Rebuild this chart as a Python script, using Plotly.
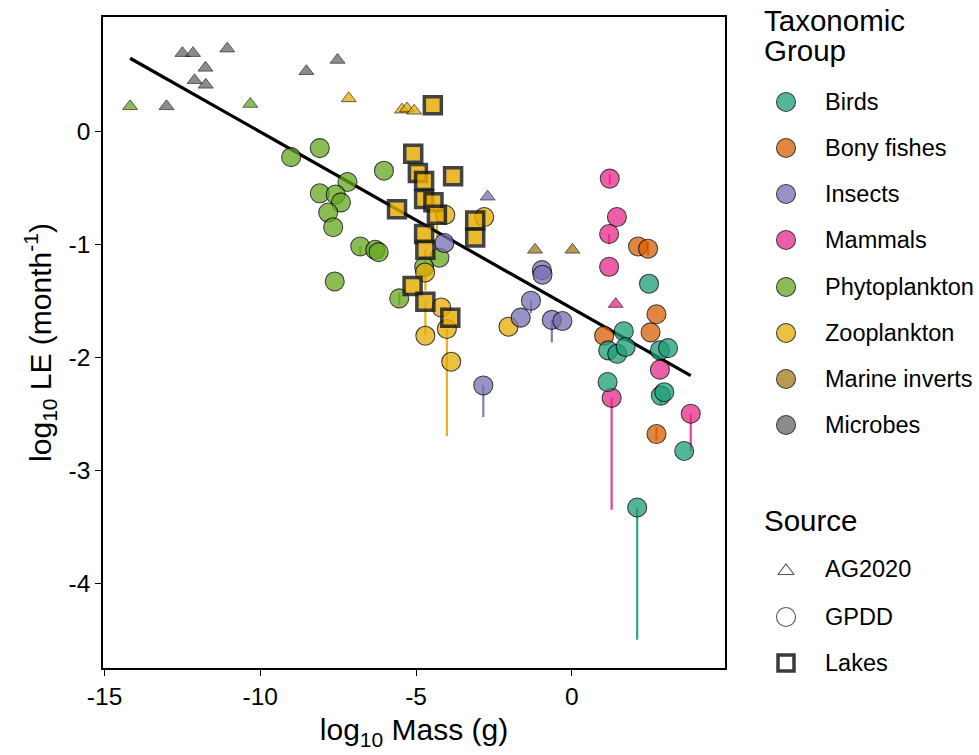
import plotly.graph_objects as go

# ---------------- data ----------------
groups = ["Birds", "Bony fishes", "Insects", "Mammals", "Phytoplankton",
          "Zooplankton", "Marine inverts", "Microbes"]
group_colors = ["#1B9E77", "#D95F02", "#7570B3", "#E7298A", "#66A61E",
                "#E6AB02", "#A6761D", "#666666"]

# AG2020 (triangles)
ag_microbes_x = [-13.01, -12.50, -12.16, -11.06, -11.76, -12.11, -11.75, -8.52, -7.52]
ag_microbes_y = [0.22, 0.69, 0.69, 0.73, 0.56, 0.45, 0.41, 0.53, 0.63]
ag_phyto_x = [-14.18, -10.32]
ag_phyto_y = [0.22, 0.24]
ag_zoo_x = [-7.16, -5.45, -5.29, -5.06]
ag_zoo_y = [0.29, 0.19, 0.20, 0.18]
ag_insects_x = [-2.70]
ag_insects_y = [-0.58]
ag_marine_x = [-1.18, 0.02]
ag_marine_y = [-1.05, -1.05]
ag_mammals_x = [1.41]
ag_mammals_y = [-1.53]

# GPDD (circles)
gp_phyto_x = [-9.01, -8.09, -6.03, -7.20, -8.09, -7.58, -7.41, -7.82, -7.66,
              -6.79, -6.31, -6.20, -7.61, -5.54, -4.25, -4.74]
gp_phyto_y = [-0.23, -0.15, -0.35, -0.45, -0.55, -0.56, -0.63, -0.72, -0.85,
              -1.02, -1.05, -1.07, -1.33, -1.48, -1.12, -1.20]
gp_zoo_x = [-4.06, -2.81, -4.71, -4.19, -4.01, -4.70, -3.87, -2.03]
gp_zoo_y = [-0.74, -0.76, -1.25, -1.56, -1.75, -1.81, -2.04, -1.73]
gp_insects_x = [-4.09, -0.96, -0.94, -1.31, -1.64, -0.64, -0.30, -2.84]
gp_insects_y = [-0.99, -1.23, -1.27, -1.50, -1.65, -1.67, -1.68, -2.25]
gp_mammals_x = [1.22, 1.45, 1.20, 1.20, 2.83, 1.28, 3.82]
gp_mammals_y = [-0.42, -0.76, -0.91, -1.20, -2.11, -2.36, -2.50]
gp_fishes_x = [2.13, 2.45, 2.72, 2.53, 1.04, 2.72]
gp_fishes_y = [-1.02, -1.04, -1.62, -1.78, -1.81, -2.68]
gp_birds_x = [2.48, 1.67, 1.17, 1.46, 1.73, 2.83, 3.09, 1.15, 2.86, 2.97, 3.61, 2.10]
gp_birds_y = [-1.35, -1.77, -1.94, -1.97, -1.91, -1.94, -1.92, -2.22, -2.34, -2.31, -2.83, -3.33]

# Lakes (squares, zooplankton)
lk_zoo_x = [-4.46, -5.09, -4.94, -4.74, -3.81, -5.61, -4.74, -4.44, -4.33,
            -3.10, -4.74, -3.10, -4.70, -5.11, -4.70, -3.90]
lk_zoo_y = [0.23, -0.20, -0.37, -0.44, -0.40, -0.69, -0.60, -0.63, -0.74,
            -0.79, -0.91, -0.94, -1.05, -1.37, -1.51, -1.65]

# vertical ranges (group, x, low, high)
err_group = ["Birds", "Birds", "Mammals", "Mammals", "Mammals", "Mammals",
             "Zooplankton", "Zooplankton", "Zooplankton", "Zooplankton", "Zooplankton",
             "Insects", "Insects", "Insects", "Bony fishes", "Bony fishes",
             "Phytoplankton", "Phytoplankton"]
err_x = [2.10, 2.86, 1.28, 3.82, 1.20, 1.22,
         -4.01, -4.70, -4.70, -4.74, -4.33,
         -2.84, -0.64, -1.31, 2.72, 2.45,
         -5.54, -6.79]
err_lo = [-4.50, -2.42, -3.35, -2.83, -1.00, -0.47,
          -2.70, -1.41, -1.81, -0.67, -0.94,
          -2.53, -1.87, -1.61, -2.74, -1.10,
          -1.54, -1.10]
err_hi = [-3.33, -2.34, -2.36, -2.50, -0.91, -0.38,
          -1.75, -1.05, -1.51, -0.52, -0.74,
          -2.25, -1.67, -1.50, -2.62, -0.98,
          -1.43, -1.02]

# fitted line (intercept, slope)
fit_intercept = -1.567
fit_slope = -0.156

x_ticks = [-15, -10, -5, 0]
x_ticklabels = ["-15", "-10", "-5", "0"]
y_ticks = [0, -1, -2, -3, -4]
y_ticklabels = ["0", "-1", "-2", "-3", "-4"]

source_labels = ["AG2020", "GPDD", "Lakes"]

# ---------------- figure ----------------
FONT = "Liberation Sans, Arial, sans-serif"
col = dict(zip(groups, group_colors))
ALPHA = 0.75

fig = go.Figure()

# error ranges
for g, x, lo, hi in zip(err_group, err_x, err_lo, err_hi):
    fig.add_trace(go.Scatter(x=[x, x], y=[lo, hi], mode="lines",
                             line=dict(color=col[g], width=2.2),
                             opacity=0.9, showlegend=False, hoverinfo="skip"))

# fitted line across data range
all_x = (ag_microbes_x + ag_phyto_x + ag_zoo_x + ag_insects_x + ag_marine_x + ag_mammals_x
         + gp_phyto_x + gp_zoo_x + gp_insects_x + gp_mammals_x + gp_fishes_x + gp_birds_x + lk_zoo_x)
xmin, xmax = min(all_x), max(all_x)
fig.add_trace(go.Scatter(x=[xmin, xmax],
                         y=[fit_intercept + fit_slope * xmin, fit_intercept + fit_slope * xmax],
                         mode="lines", line=dict(color="black", width=3.2),
                         showlegend=False, hoverinfo="skip"))

def tri(x, y, g):
    fig.add_trace(go.Scatter(x=x, y=y, mode="markers", showlegend=False,
                             marker=dict(symbol="triangle-up", size=13, color=col[g],
                                         opacity=ALPHA,
                                         line=dict(color="rgba(0,0,0,0.8)", width=1))))

def circ(x, y, g):
    fig.add_trace(go.Scatter(x=x, y=y, mode="markers", showlegend=False,
                             marker=dict(symbol="circle", size=19, color=col[g],
                                         opacity=ALPHA,
                                         line=dict(color="black", width=1.1))))

tri(ag_microbes_x, ag_microbes_y, "Microbes")
tri(ag_phyto_x, ag_phyto_y, "Phytoplankton")
tri(ag_zoo_x, ag_zoo_y, "Zooplankton")
tri(ag_insects_x, ag_insects_y, "Insects")
tri(ag_marine_x, ag_marine_y, "Marine inverts")
tri(ag_mammals_x, ag_mammals_y, "Mammals")

circ(gp_phyto_x, gp_phyto_y, "Phytoplankton")
circ(gp_zoo_x, gp_zoo_y, "Zooplankton")
circ(gp_insects_x, gp_insects_y, "Insects")
circ(gp_mammals_x, gp_mammals_y, "Mammals")
circ(gp_fishes_x, gp_fishes_y, "Bony fishes")
circ(gp_birds_x, gp_birds_y, "Birds")

fig.add_trace(go.Scatter(x=lk_zoo_x, y=lk_zoo_y, mode="markers", showlegend=False,
                         marker=dict(symbol="square", size=17, color=col["Zooplankton"],
                                     opacity=0.82,
                                     line=dict(color="#1a1a1a", width=3.5))))

# ---------------- manual legend (in a pixel-like helper axis) ----------------
L_MARK_X = 786
L_TEXT_X = 823
grp_y = [102, 148, 194, 240, 287, 333, 379, 425]
src_y = [569, 617, 663]

fig.add_trace(go.Scatter(x=[L_MARK_X] * len(groups), y=grp_y, xaxis="x2", yaxis="y2",
                         mode="markers", showlegend=False, hoverinfo="skip", cliponaxis=False,
                         marker=dict(symbol="circle", size=19, color=group_colors,
                                     opacity=ALPHA, line=dict(color="black", width=1.1))))
fig.add_trace(go.Scatter(x=[L_MARK_X], y=[src_y[0] + 2], xaxis="x2", yaxis="y2",
                         mode="markers", showlegend=False, hoverinfo="skip", cliponaxis=False,
                         marker=dict(symbol="triangle-up-open", size=14,
                                     color="#555555", line=dict(width=1.1))))
fig.add_trace(go.Scatter(x=[L_MARK_X], y=[src_y[1]], xaxis="x2", yaxis="y2",
                         mode="markers", showlegend=False, hoverinfo="skip", cliponaxis=False,
                         marker=dict(symbol="circle-open", size=19,
                                     color="#555555", line=dict(width=1.1))))
fig.add_trace(go.Scatter(x=[L_MARK_X], y=[src_y[2]], xaxis="x2", yaxis="y2",
                         mode="markers", showlegend=False, hoverinfo="skip", cliponaxis=False,
                         marker=dict(symbol="square-open", size=16,
                                     color="#3a3a3a", line=dict(width=3.5))))

TITLE_SIZE = 29.5
ITEM_SIZE = 23.5
ann = []
ann.append(dict(x=762, y=20, xref="x2", yref="y2", text="Taxonomic", showarrow=False,
                xanchor="left", yanchor="middle", font=dict(size=TITLE_SIZE, color="black", family=FONT)))
ann.append(dict(x=762, y=50, xref="x2", yref="y2", text="Group", showarrow=False,
                xanchor="left", yanchor="middle", font=dict(size=TITLE_SIZE, color="black", family=FONT)))
ann.append(dict(x=762, y=520, xref="x2", yref="y2", text="Source", showarrow=False,
                xanchor="left", yanchor="middle", font=dict(size=TITLE_SIZE, color="black", family=FONT)))
for g, yy in zip(groups, grp_y):
    ann.append(dict(x=L_TEXT_X, y=yy, xref="x2", yref="y2", text=g, showarrow=False,
                    xanchor="left", yanchor="middle", font=dict(size=ITEM_SIZE, color="black", family=FONT)))
for s, yy in zip(source_labels, src_y):
    ann.append(dict(x=L_TEXT_X, y=yy, xref="x2", yref="y2", text=s, showarrow=False,
                    xanchor="left", yanchor="middle", font=dict(size=ITEM_SIZE, color="black", family=FONT)))

W, H = 979, 755
ML, MR, MT, MB = 103, 5, 17, 87
plot_w = W - ML - MR
main_right = (725 - ML) / plot_w

TICK_SIZE = 24.5
fig.update_layout(
    width=W, height=H,
    margin=dict(l=ML, r=MR, t=MT, b=MB, pad=0),
    paper_bgcolor="white", plot_bgcolor="white",
    font=dict(family=FONT, color="black"),
    annotations=ann,
    xaxis=dict(domain=[0, main_right], range=[-15.05, 4.92],
               tickvals=x_ticks, ticktext=x_ticklabels,
               showgrid=False, zeroline=False,
               showline=True, linecolor="black", linewidth=1.6, mirror=True,
               ticks="outside", ticklen=6, tickwidth=1.4, tickcolor="black",
               tickfont=dict(size=TICK_SIZE, color="black", family=FONT),
               title=dict(text="log<sub>10</sub> Mass (g)", standoff=10,
                          font=dict(size=30, color="black", family=FONT))),
    yaxis=dict(domain=[0, 1], range=[-4.75, 1.01],
               tickvals=y_ticks, ticktext=y_ticklabels,
               showgrid=False, zeroline=False,
               showline=True, linecolor="black", linewidth=1.6, mirror=True,
               ticks="outside", ticklen=6, tickwidth=1.4, tickcolor="black",
               tickfont=dict(size=TICK_SIZE, color="black", family=FONT),
               title=dict(text="log<sub>10</sub> LE (month<sup>-1</sup>)", standoff=8,
                          font=dict(size=30, color="black", family=FONT))),
    xaxis2=dict(domain=[main_right, 1], range=[725, W - MR], visible=False,
                anchor="y2", fixedrange=True),
    yaxis2=dict(domain=[0, 1], range=[H - MB, MT], visible=False,
                anchor="x2", fixedrange=True),
)

fig.write_html("out.html")
